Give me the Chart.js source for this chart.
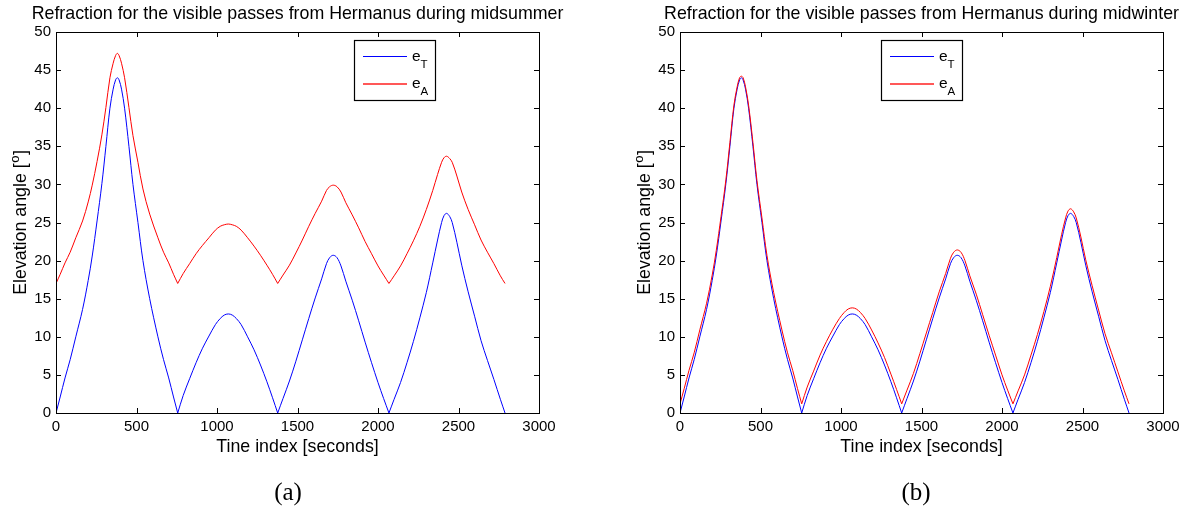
<!DOCTYPE html>
<html>
<head>
<meta charset="utf-8">
<script src="https://cdn.jsdelivr.net/npm/chart.js@4.4.1/dist/chart.umd.min.js"></script>
<style>
  html, body { margin: 0; padding: 0; background: #fff; overflow: hidden; }
  .panel { position: absolute; top: 0; }
  #left { left: 0; }
  #right { left: 624px; }
</style>
</head>
<body>
<div class="panel" id="left"><canvas id="summer" width="600" height="511"></canvas></div>
<div class="panel" id="right"><canvas id="winter" width="567" height="511"></canvas></div>
<script>
// time stamps of the four visible passes [s]
const time = [
  0, 26, 56, 88, 123, 165, 200, 225, 255, 285, 310, 335, 355, 370, 381, 392, 407, 426, 453, 478, 509, 540, 582, 633, 668, 700, 730, 756,
  790, 830, 870, 910, 950, 990, 1020, 1045, 1070, 1095, 1120, 1150, 1190, 1230, 1270, 1310, 1345, 1377,
  1410, 1450, 1490, 1530, 1570, 1610, 1650, 1680, 1700, 1722, 1745, 1770, 1800, 1840, 1880, 1920, 1960, 2000, 2035, 2068,
  2100, 2140, 2180, 2220, 2260, 2300, 2340, 2370, 2395, 2410, 2426, 2445, 2461, 2490, 2520, 2560, 2600, 2640, 2680, 2720, 2760, 2789
];

// true elevation e_T [deg]
const elevTrue = [
  0, 2.1, 4.6, 7.0, 10.0, 13.6, 17.4, 20.6, 25.2, 30.1, 35.0, 40.0, 42.5, 43.7, 44.0, 43.7, 42.5, 40.0, 35.0, 30.0, 25.0, 20.0, 15.0, 10.0, 7.0, 4.6, 2.1, 0,
  2.3, 4.5, 6.6, 8.5, 10.1, 11.6, 12.4, 12.85, 13.0, 12.85, 12.4, 11.6, 10.0, 8.3, 6.3, 4.1, 2.0, 0,
  1.9, 4.2, 6.8, 9.6, 12.4, 15.1, 17.6, 19.6, 20.4, 20.7, 20.4, 19.3, 17.3, 14.8, 12.1, 9.3, 6.6, 4.0, 1.9, 0,
  1.8, 4.0, 6.6, 9.4, 12.5, 15.8, 19.7, 22.7, 25.0, 25.9, 26.2, 25.8, 25.0, 22.4, 19.4, 15.9, 12.7, 9.5, 6.9, 4.4, 1.8, 0
];

// apparent elevation e_A, midsummer [deg]
const elevSummer = [
  17.0, 18.2, 19.7, 21.1, 23.0, 25.2, 27.7, 29.9, 33.0, 36.5, 40.1, 44.0, 45.9, 46.9, 47.2, 46.9, 45.9, 44.0, 40.1, 36.4, 32.9, 29.4, 26.1, 23.0, 21.1, 19.7, 18.2, 17.0,
  18.3, 19.6, 20.9, 22.0, 23.0, 24.0, 24.5, 24.7, 24.8, 24.7, 24.5, 24.0, 23.0, 21.9, 20.7, 19.4, 18.2, 17.0,
  18.1, 19.4, 21.0, 22.7, 24.5, 26.2, 27.8, 29.2, 29.7, 29.9, 29.7, 29.0, 27.6, 26.0, 24.3, 22.5, 20.9, 19.3, 18.1, 17.0,
  18.0, 19.3, 20.9, 22.6, 24.5, 26.7, 29.2, 31.3, 32.9, 33.5, 33.7, 33.4, 32.9, 31.1, 29.0, 26.7, 24.7, 22.7, 21.1, 19.6, 18.0, 17.0
];

// apparent elevation e_A, midwinter [deg]
const elevWinter = [
  1.2, 3.2, 5.6, 7.9, 10.9, 14.4, 18.1, 21.3, 25.8, 30.6, 35.5, 40.4, 42.8, 44.0, 44.2, 44.0, 42.8, 40.4, 35.5, 30.5, 25.6, 20.7, 15.8, 10.9, 7.9, 5.6, 3.2, 1.2,
  3.4, 5.5, 7.6, 9.4, 11.0, 12.4, 13.2, 13.65, 13.8, 13.65, 13.2, 12.4, 10.9, 9.2, 7.3, 5.1, 3.1, 1.2,
  3.0, 5.2, 7.8, 10.5, 13.2, 15.9, 18.3, 20.3, 21.1, 21.4, 21.1, 20.0, 18.0, 15.6, 12.9, 10.2, 7.6, 5.0, 3.0, 1.2,
  2.9, 5.0, 7.6, 10.3, 13.3, 16.6, 20.4, 23.4, 25.6, 26.5, 26.8, 26.4, 25.6, 23.1, 20.1, 16.7, 13.5, 10.4, 7.9, 5.4, 2.9, 1.2
];

const xTicks = [0, 500, 1000, 1500, 2000, 2500, 3000];
const yTicks = [0, 5, 10, 15, 20, 25, 30, 35, 40, 45, 50];

const SANS = '"Liberation Sans", Arial, Helvetica, sans-serif';
const LABEL_FONT = '17.8px ' + SANS;

// split a series into passes at the samples where the satellite sets,
// so every pass is smoothed on its own and the corners stay sharp
function passes(ys) {
  const out = [];
  let seg = [];
  time.forEach((t, i) => {
    seg.push({ x: t, y: ys[i] });
    if (i > 0 && elevTrue[i] === 0) {
      out.push(seg);
      seg = [{ x: t, y: ys[i] }];
    }
  });
  if (seg.length > 1) out.push(seg);
  return out;
}

function lineSets(ys, color, order) {
  return passes(ys).map(seg => ({
    data: seg, borderColor: color, borderWidth: 1, pointRadius: 0, tension: 0.35, order: order
  }));
}

// axes box, inward ticks, titles, legend and caption in the MATLAB look
const matlabFrame = {
  id: 'matlabFrame',
  afterDraw(chart, args, opts) {
    const { ctx, chartArea: a, scales } = chart;
    const cx = (a.left + a.right) / 2;
    ctx.save();

    ctx.strokeStyle = '#000';
    ctx.lineWidth = 1;
    ctx.strokeRect(Math.round(a.left) + 0.5, Math.round(a.top) + 0.5,
                   Math.round(a.right - a.left), Math.round(a.bottom - a.top));
    ctx.beginPath();
    xTicks.forEach(v => {
      const px = Math.round(scales.x.getPixelForValue(v)) + 0.5;
      ctx.moveTo(px, a.bottom); ctx.lineTo(px, a.bottom - 5);
      ctx.moveTo(px, a.top); ctx.lineTo(px, a.top + 5);
    });
    yTicks.forEach(v => {
      const py = Math.round(scales.y.getPixelForValue(v)) + 0.5;
      ctx.moveTo(a.left, py); ctx.lineTo(a.left + 5, py);
      ctx.moveTo(a.right, py); ctx.lineTo(a.right - 5, py);
    });
    ctx.stroke();

    ctx.fillStyle = '#000';
    ctx.textAlign = 'center';
    ctx.textBaseline = 'alphabetic';
    ctx.font = LABEL_FONT;
    ctx.fillText(opts.title, cx, 19);
    ctx.fillText('Tine index [seconds]', cx, 452);

    // y axis title with a raised "o" for degrees
    ctx.save();
    ctx.translate(a.left - 30, (a.top + a.bottom) / 2);
    ctx.rotate(-Math.PI / 2);
    ctx.textAlign = 'left';
    const p1 = 'Elevation angle [';
    ctx.font = LABEL_FONT;
    const w1 = ctx.measureText(p1).width;
    const w3 = ctx.measureText(']').width;
    ctx.font = '13px ' + SANS;
    const w2 = ctx.measureText('o').width;
    const x0 = -(w1 + w2 + w3 + 1) / 2;
    ctx.font = LABEL_FONT;
    ctx.fillText(p1, x0, 0);
    ctx.font = '13px ' + SANS;
    ctx.fillText('o', x0 + w1 + 0.5, -7.5);
    ctx.font = LABEL_FONT;
    ctx.fillText(']', x0 + w1 + w2 + 1, 0);
    ctx.restore();

    // legend
    const lx = opts.legendX, ly = 40;
    ctx.fillStyle = '#fff';
    ctx.fillRect(lx, ly, 81, 60);
    ctx.lineWidth = 1.2;
    ctx.strokeRect(lx + 0.5, ly + 0.5, 81, 60);
    const entries = [
      { color: '#0000ff', sub: 'T', y: ly + 16.5, w: 1 },
      { color: '#ff2020', sub: 'A', y: ly + 44, w: 1.3 }
    ];
    entries.forEach(e => {
      ctx.strokeStyle = e.color;
      ctx.lineWidth = e.w;
      ctx.beginPath();
      ctx.moveTo(lx + 9, e.y); ctx.lineTo(lx + 53, e.y);
      ctx.stroke();
      ctx.fillStyle = '#000';
      ctx.textAlign = 'left';
      ctx.font = '15.5px ' + SANS;
      ctx.fillText('e', lx + 58, Math.round(e.y) + 3.5);
      const we = ctx.measureText('e').width;
      ctx.font = '11.5px ' + SANS;
      ctx.fillText(e.sub, lx + 58 + we, Math.round(e.y) + 11);
    });

    // sub-figure caption
    ctx.fillStyle = '#000';
    ctx.textAlign = 'center';
    ctx.font = '25px "Liberation Serif", "Times New Roman", serif';
    ctx.fillText(opts.caption, opts.captionX, 500);

    ctx.restore();
  }
};

function makePanel(id, apparent, frame, padRight) {
  new Chart(document.getElementById(id), {
    type: 'line',
    data: {
      datasets: lineSets(elevTrue, '#0000ff', 1).concat(lineSets(apparent, '#ff0000', 0))
    },
    options: {
      responsive: false,
      animation: false,
      events: [],
      layout: { padding: { top: 32, right: padRight, bottom: 0, left: 0 } },
      plugins: {
        legend: { display: false },
        title: { display: false },
        tooltip: { enabled: false },
        matlabFrame: frame
      },
      scales: {
        x: {
          type: 'linear', min: 0, max: 3000,
          afterBuildTicks: s => { s.ticks = xTicks.map(v => ({ value: v })); },
          afterFit: s => { s.height = 98; },
          grid: { display: false, drawTicks: false },
          border: { display: false },
          ticks: { color: '#000', padding: 5, maxRotation: 0, callback: v => String(v), font: { family: SANS, size: 15 } }
        },
        y: {
          type: 'linear', min: 0, max: 50,
          afterBuildTicks: s => { s.ticks = yTicks.map(v => ({ value: v })); },
          afterFit: s => { s.width = 56; },
          grid: { display: false, drawTicks: false },
          border: { display: false },
          ticks: { color: '#000', padding: 5, callback: v => String(v), font: { family: SANS, size: 15 } }
        }
      }
    },
    plugins: [matlabFrame]
  });
}

makePanel('summer', elevSummer,
  { title: 'Refraction for the visible passes from Hermanus during midsummer', legendX: 354, caption: '(a)', captionX: 288 }, 61);
makePanel('winter', elevWinter,
  { title: 'Refraction for the visible passes from Hermanus during midwinter', legendX: 257, caption: '(b)', captionX: 292 }, 28);
</script>
</body>
</html>
